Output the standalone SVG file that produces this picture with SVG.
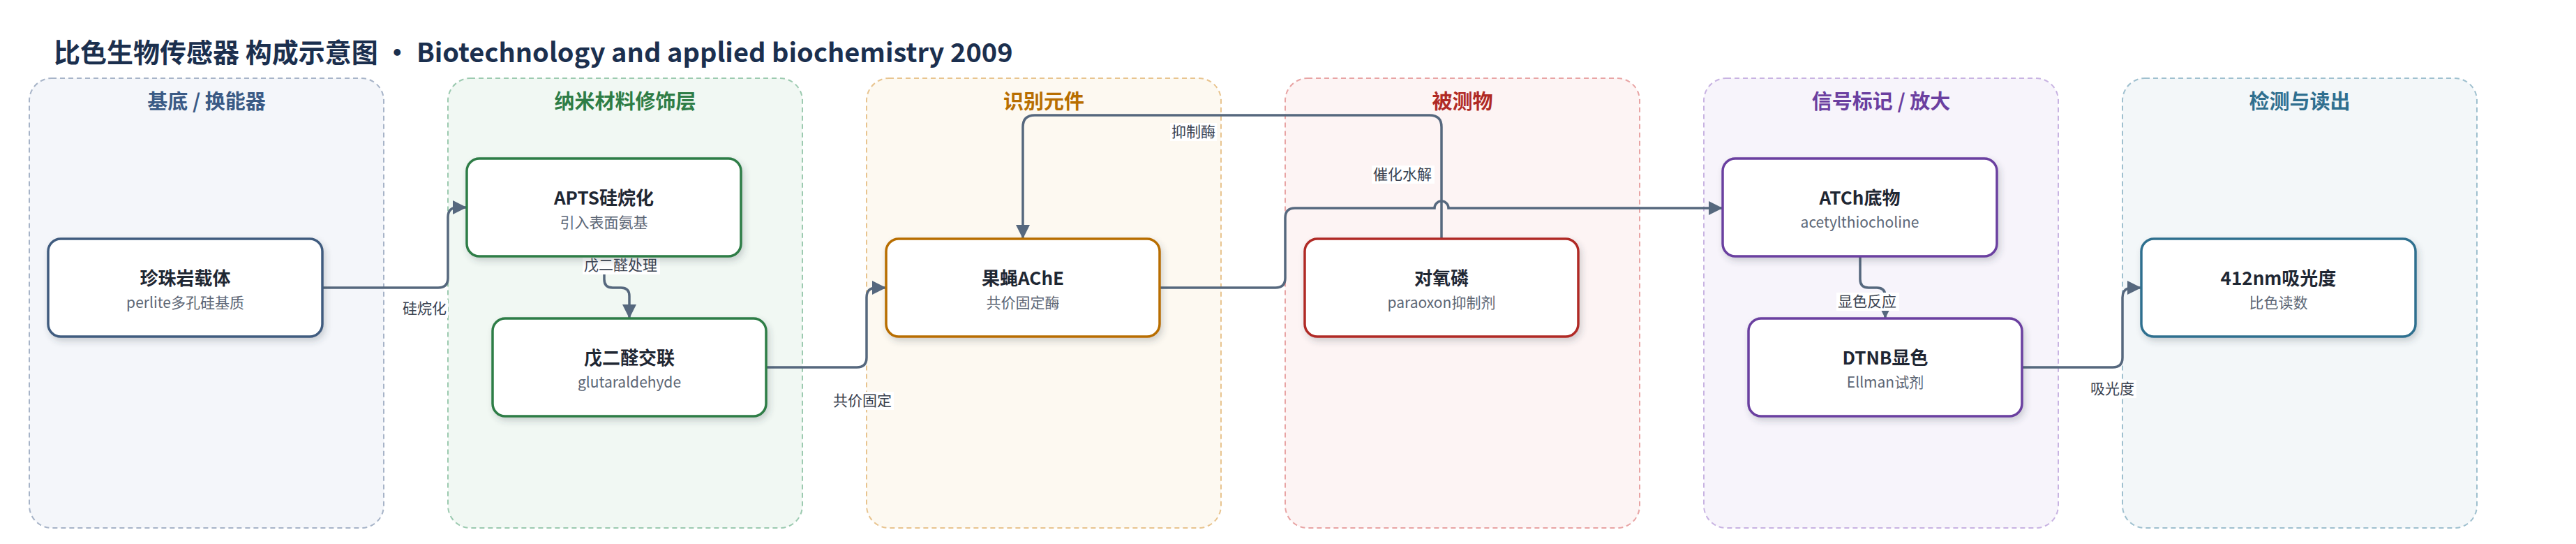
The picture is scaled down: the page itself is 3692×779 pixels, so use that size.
<svg xmlns="http://www.w3.org/2000/svg" width="3692" height="779" viewBox="0 0 3692 779">
<style>
text{font-family:"Noto Sans CJK SC","Noto Sans",sans-serif}
.ttl{font-size:38px;font-weight:700;fill:#1b2f4e}
.ct{font-size:29px;font-weight:700;text-anchor:middle}
.cl{stroke-width:2;stroke-dasharray:7 5}
.nd{fill:#fff;stroke-width:3.5}
.nt{font-size:26px;font-weight:700;fill:#1f2733;text-anchor:middle}
.ns{font-size:21px;fill:#5c6675;text-anchor:middle}
.e{fill:none;stroke:#56687e;stroke-width:3.5}
.lb{fill:#fff}
.lt{font-size:21px;fill:#3a4250}
</style>
<defs>
<marker id="ah" markerUnits="userSpaceOnUse" markerWidth="20" markerHeight="20" refX="20" refY="10" orient="auto"><path d="M0,0 L20,10 L0,20 z" fill="#56687e"/></marker>
<filter id="sh" x="-10%" y="-20%" width="125%" height="150%"><feDropShadow dx="3" dy="5" stdDeviation="5" flood-color="#3a4250" flood-opacity="0.22"/></filter>
</defs>
<rect width="3692" height="779" fill="#fff"/>
<text class="ttl" x="77" y="89">比色生物传感器 构成示意图 · Biotechnology and applied biochemistry 2009</text>

<g id="clusters">
<g id="c1"><rect class="cl" x="42" y="112" width="508" height="644" rx="32" fill="#f4f6fa" stroke="#a7b4c8"/><text class="ct" x="296" y="156" fill="#3a5a85">基底 / 换能器</text></g>
<g id="c2"><rect class="cl" x="642" y="112" width="508" height="644" rx="32" fill="#f1f8f3" stroke="#9ccab0"/><text class="ct" x="896" y="156" fill="#2e7d46">纳米材料修饰层</text></g>
<g id="c3"><rect class="cl" x="1242" y="112" width="508" height="644" rx="32" fill="#fdf9f1" stroke="#e8c48f"/><text class="ct" x="1496" y="156" fill="#b86e00">识别元件</text></g>
<g id="c4"><rect class="cl" x="1842" y="112" width="508" height="644" rx="32" fill="#fdf4f4" stroke="#e8a4a4"/><text class="ct" x="2096" y="156" fill="#b02a25">被测物</text></g>
<g id="c5"><rect class="cl" x="2442" y="112" width="508" height="644" rx="32" fill="#f7f4fb" stroke="#c8b3e2"/><text class="ct" x="2696" y="156" fill="#6b3fa0">信号标记 / 放大</text></g>
<g id="c6"><rect class="cl" x="3042" y="112" width="508" height="644" rx="32" fill="#f3f7f9" stroke="#9fc0cf"/><text class="ct" x="3296" y="156" fill="#2f6f8f">检测与读出</text></g>
</g>

<g id="connectors">
<path class="e" d="M462 412 L628 412 Q642 412 642 398 L642 311 Q642 297 656 297 L669 297" marker-end="url(#ah)"/>
<path class="e" d="M866 367 L866 400 Q866 412 878 412 L890 412 Q902 412 902 424 L902 456" marker-end="url(#ah)"/>
<path class="e" d="M1098 526 L1228 526 Q1242 526 1242 512 L1242 426 Q1242 412 1256 412 L1270 412" marker-end="url(#ah)"/>
<path class="e" d="M2066 342 L2066 182 Q2066 165 2049 165 L1483 165 Q1466 165 1466 182 L1466 342" marker-end="url(#ah)"/>
<path class="e" d="M1662 412 L1828 412 Q1842 412 1842 398 L1842 312 Q1842 298 1856 298 L2056 298 A10 10 0 0 1 2076 298 L2469 298" marker-end="url(#ah)"/>
<path class="e" d="M2666 367 L2666 400 Q2666 412 2678 412 L2690 412 Q2702 412 2702 424 L2702 456" marker-end="url(#ah)"/>
<path class="e" d="M2898 526 L3028 526 Q3042 526 3042 512 L3042 426 Q3042 412 3056 412 L3069 412" marker-end="url(#ah)"/>
<g id="labels">
<rect class="lb" x="575" y="429" width="67" height="26"/><text class="lt" x="577" y="449">硅烷化</text>
<rect class="lb" x="835" y="367" width="111" height="26"/><text class="lt" x="837" y="387">戊二醛处理</text>
<rect class="lb" x="1192" y="561" width="89" height="26"/><text class="lt" x="1194" y="581">共价固定</text>
<rect class="lb" x="1677" y="176" width="67" height="26"/><text class="lt" x="1679" y="196">抑制酶</text>
<rect class="lb" x="1966" y="237" width="90" height="26"/><text class="lt" x="1968" y="257">催化水解</text>
<rect class="lb" x="2632" y="419" width="90" height="26"/><text class="lt" x="2634" y="439">显色反应</text>
<rect class="lb" x="2994" y="544" width="68" height="26"/><text class="lt" x="2996" y="564">吸光度</text>
</g>
</g>

<g id="n1"><rect class="nd" x="69" y="342" width="393" height="140" rx="18" stroke="#3f5b7f" filter="url(#sh)"/><text class="nt" x="265.5" y="408">珍珠岩载体</text><text class="ns" x="265.5" y="441">perlite多孔硅基质</text></g>
<g id="n2"><rect class="nd" x="669" y="227" width="393" height="140" rx="18" stroke="#2e7d46" filter="url(#sh)"/><text class="nt" x="865.5" y="293">APTS硅烷化</text><text class="ns" x="865.5" y="326">引入表面氨基</text></g>
<g id="n3"><rect class="nd" x="706" y="456" width="392" height="140" rx="18" stroke="#2e7d46" filter="url(#sh)"/><text class="nt" x="902" y="522">戊二醛交联</text><text class="ns" x="902" y="555">glutaraldehyde</text></g>
<g id="n4"><rect class="nd" x="1270" y="342" width="392" height="140" rx="18" stroke="#b86e00" filter="url(#sh)"/><text class="nt" x="1466" y="408">果蝇AChE</text><text class="ns" x="1466" y="441">共价固定酶</text></g>
<g id="n5"><rect class="nd" x="1870" y="342" width="392" height="140" rx="18" stroke="#b02a25" filter="url(#sh)"/><text class="nt" x="2066" y="408">对氧磷</text><text class="ns" x="2066" y="441">paraoxon抑制剂</text></g>
<g id="n6"><rect class="nd" x="2469" y="227" width="393" height="140" rx="18" stroke="#6b3fa0" filter="url(#sh)"/><text class="nt" x="2665.5" y="293">ATCh底物</text><text class="ns" x="2665.5" y="326">acetylthiocholine</text></g>
<g id="n7"><rect class="nd" x="2506" y="456" width="392" height="140" rx="18" stroke="#6b3fa0" filter="url(#sh)"/><text class="nt" x="2702" y="522">DTNB显色</text><text class="ns" x="2702" y="555">Ellman试剂</text></g>
<g id="n8"><rect class="nd" x="3069" y="342" width="393" height="140" rx="18" stroke="#2f6f8f" filter="url(#sh)"/><text class="nt" x="3265.5" y="408">412nm吸光度</text><text class="ns" x="3265.5" y="441">比色读数</text></g>
</svg>
